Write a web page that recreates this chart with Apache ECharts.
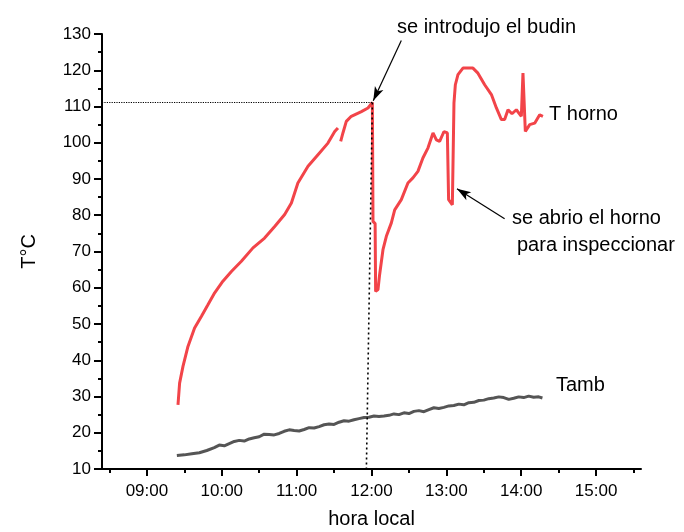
<!DOCTYPE html>
<html>
<head>
<meta charset="utf-8">
<script src="https://cdn.jsdelivr.net/npm/echarts@6/dist/echarts.min.js"></script>
<style>
  html, body { margin: 0; padding: 0; background: #fff; }
  #chart { width: 684px; height: 532px; }
</style>
</head>
<body>
<div id="chart"></div>
<script>
// tiempo en minutos despues de las 09:00
const hornoMin = [24.9, 26.2, 28.9, 32.9, 38.2, 43.6, 48.9, 54.3, 60.9, 67.7, 75.7, 85.0, 94.3, 102.4, 110.4, 115.8,
  121.0, 129.1, 137.1, 145.1, 150.5, 153.1, 154.2, 155.3, 157.1, 159.8, 163.8, 171.9, 177.2, 180.7, 181.2, 182.9,
  183.3, 185.2, 186.5, 189.2, 191.9, 195.9, 198.6, 203.9, 209.2, 213.2, 217.2, 221.2, 225.3, 229.3, 230.6, 232.0,
  234.6, 238.1, 240.8, 241.8, 244.8, 246.1, 247.2, 249.3, 253.3, 261.3, 265.3, 270.7, 276.1, 280.1, 284.1, 286.7,
  289.4, 292.6, 296.1, 300.1, 301.4, 303.3, 306.8, 310.8, 314.8, 317.4];
const hornoVal = [27.7, 33.7, 38.3, 43.8, 48.9, 52.1, 55.3, 58.6, 61.8, 64.5, 67.3, 71.0, 73.7, 76.9, 80.2, 83.4,
  88.9, 93.5, 96.7, 99.9, 103.1, 104.1, null, 100.4, 102.7, 105.9, 107.3, 108.6, 109.6, 111.1, 78.3, 77.7,
  59.0, 59.5, 63.6, 70.5, 74.2, 77.9, 81.5, 84.3, 88.9, 90.3, 92.1, 95.8, 98.6, 102.7, 103.1, 100.8,
  100.4, 103.1, 102.7, 84.3, 82.9, 111.0, 116.0, 118.8, 120.6, 120.6, 119.2, 116.0, 113.3, 109.6, 106.4, 106.4,
  109.1, 108.0, 109.1, 107.3, 119.2, 103.1, 105.0, 105.4, 107.7, 107.3];

const ambMin = [24, 30, 36, 42, 48, 54, 58, 62, 66, 70, 74, 78, 82, 86, 90, 94, 98, 102, 106, 110, 114, 118, 122, 126,
  130, 134, 138, 142, 146, 150, 154, 158, 162, 166, 170, 174, 178, 182, 186, 190, 194, 198, 202, 206, 210, 214,
  218, 222, 226, 230, 234, 238, 242, 246, 250, 254, 258, 262, 266, 270, 274, 278, 282, 286, 290, 294, 298, 302,
  306, 310, 314, 317];
const ambVal = [13.7, 13.9, 14.2, 14.5, 15.1, 15.9, 16.6, 16.4, 17.0, 17.6, 17.9, 17.7, 18.3, 18.6, 18.9, 19.6, 19.5,
  19.4, 19.8, 20.4, 20.8, 20.6, 20.5, 20.9, 21.4, 21.3, 21.7, 22.2, 22.4, 22.3, 22.9, 23.3, 23.2, 23.6, 23.9, 24.2,
  24.3, 24.6, 24.5, 24.6, 24.8, 25.2, 25.0, 25.5, 25.3, 25.9, 26.1, 25.8, 26.4, 26.9, 26.7, 27.0, 27.4, 27.5, 27.9,
  27.7, 28.3, 28.4, 28.9, 29.0, 29.4, 29.6, 29.9, 29.7, 29.2, 29.5, 29.9, 29.7, 30.1, 29.8, 29.9, 29.6];

const horaTicks = [9, 10, 11, 12, 13, 14, 15];
const mediaHoraTicks = [8.5, 9.5, 10.5, 11.5, 12.5, 13.5, 14.5, 15.5];

const font = '"Liberation Sans", Arial, sans-serif';
const h = (m) => 9 + m / 60;

const hornoData = hornoMin.map((m, i) => [h(m), hornoVal[i]]);
const ambData = ambMin.map((m, i) => [h(m), ambVal[i]]);

const chart = echarts.init(document.getElementById('chart'));
chart.setOption({
  animation: false,
  grid: { left: 102, top: 34, width: 539, height: 435, outerBoundsMode: 'none' },
  xAxis: [
    {
      type: 'value',
      min: 8.4,
      max: 15.6,
      name: 'hora local',
      nameLocation: 'middle',
      nameGap: 40,
      nameTextStyle: { fontFamily: font, fontSize: 20, color: '#000' },
      axisLine: { show: true, lineStyle: { color: '#000', width: 2 } },
      axisTick: { show: true, length: 7, lineStyle: { color: '#000', width: 2 }, customValues: horaTicks },
      axisLabel: {
        margin: 14, fontFamily: font, fontSize: 17, color: '#000',
        customValues: horaTicks,
        formatter: (v) => String(Math.round(v)).padStart(2, '0') + ':00'
      },
      splitLine: { show: false }
    },
    {
      type: 'value',
      min: 8.4,
      max: 15.6,
      position: 'bottom',
      axisLine: { show: false },
      axisTick: { show: true, length: 4, lineStyle: { color: '#000', width: 2 }, customValues: mediaHoraTicks },
      axisLabel: { show: false },
      splitLine: { show: false }
    }
  ],
  yAxis: {
    type: 'value',
    min: 10,
    max: 130,
    interval: 10,
    name: 'T°C',
    nameLocation: 'middle',
    nameRotate: 90,
    nameGap: 63,
    nameTextStyle: { fontFamily: font, fontSize: 20, color: '#000' },
    axisLine: { show: true, lineStyle: { color: '#000', width: 2 } },
    axisTick: { show: true, length: 8, lineStyle: { color: '#000', width: 2 } },
    minorTick: { show: true, splitNumber: 2, length: 4, lineStyle: { color: '#000', width: 2 } },
    axisLabel: { margin: 11, fontFamily: font, fontSize: 17, color: '#000' },
    splitLine: { show: false }
  },
  series: [
    {
      name: 'T horno',
      type: 'line',
      data: hornoData,
      showSymbol: false,
      connectNulls: false,
      lineStyle: { color: '#f24449', width: 3 },
      markLine: {
        silent: true,
        symbol: ['none', 'none'],
        label: { show: false },
        data: [
          [
            { coord: [8.4, 111.1], lineStyle: { color: '#000', width: 1.2, type: 'dotted' } },
            { coord: [h(180.7), 111.1] }
          ],
          [
            { coord: [h(180.7), 111.1], lineStyle: { color: '#000', width: 1.6, type: [2, 3] } },
            { coord: [h(175.9), 10] }
          ],
          [
            { coord: [h(203.9), 128.2], lineStyle: { color: '#000', width: 1.2, type: 'solid' } },
            { coord: [h(181.4), 111.6], symbol: 'arrow', symbolSize: [7, 14] }
          ],
          [
            { coord: [h(286.7), 79.05], lineStyle: { color: '#000', width: 1.2, type: 'solid' } },
            { coord: [h(248.5), 87.3], symbol: 'arrow', symbolSize: [7, 14] }
          ]
        ]
      }
    },
    {
      name: 'Tamb',
      type: 'line',
      data: ambData,
      showSymbol: false,
      lineStyle: { color: '#555555', width: 3 }
    }
  ],
  graphic: [
    { type: 'text', left: 397, top: 17, style: { text: 'se introdujo el budin', font: '20px ' + font, fill: '#000' } },
    { type: 'text', left: 549, top: 104, style: { text: 'T horno', font: '20px ' + font, fill: '#000' } },
    { type: 'text', left: 512, top: 208, style: { text: 'se abrio el horno', font: '20px ' + font, fill: '#000' } },
    { type: 'text', left: 517, top: 235, style: { text: 'para inspeccionar', font: '20px ' + font, fill: '#000' } },
    { type: 'text', left: 556, top: 375, style: { text: 'Tamb', font: '20px ' + font, fill: '#000' } }
  ]
});
</script>
</body>
</html>
